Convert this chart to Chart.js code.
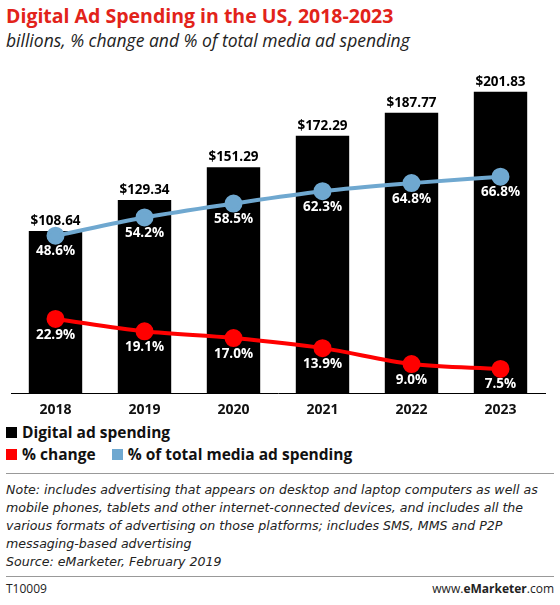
<!DOCTYPE html>
<html><head><meta charset="utf-8">
<script src="https://cdn.jsdelivr.net/npm/chart.js@4"></script>
<style>
body{margin:0;background:#fff;font-family:"Open Sans",Lato,sans-serif;width:560px;height:605px;position:relative;overflow:hidden}
.t{position:absolute;left:6px;top:2px;color:#e2231a;font-weight:bold;font-size:19.5px}
.s{position:absolute;left:6px;top:28px;font-style:italic;font-size:17.5px;color:#222}
#wrap{position:absolute;left:0;top:58px;width:556px;height:360px}
.lg{position:absolute;left:6px;font-weight:bold;font-size:15.5px;color:#111}
.lg span.b{display:inline-block;width:11px;height:11px;margin-right:5px}
.hr{position:absolute;left:6px;right:6px;border-top:1px solid #999}
.n{position:absolute;left:6px;top:481px;font-family:"DejaVu Sans",sans-serif;font-style:italic;font-size:12.6px;line-height:18px;color:#222;width:552px}
.f{position:absolute;top:580px;font-size:12px;color:#222}
</style></head><body>
<div class="t">Digital Ad Spending in the US, 2018-2023</div>
<div class="s">billions, % change and % of total media ad spending</div>
<div id="wrap"><canvas id="c"></canvas></div>
<div class="lg" style="top:421px"><span class="b" style="background:#000"></span>Digital ad spending</div>
<div class="lg" style="top:443px"><span class="b" style="background:#f00"></span>% change <span class="b" style="background:#6fa8d0;margin-left:12px"></span>% of total media ad spending</div>
<div class="hr" style="top:473px"></div>
<div class="n">Note: includes advertising that appears on desktop and laptop computers as well as mobile phones, tablets and other internet-connected devices, and includes all the various formats of advertising on those platforms; includes SMS, MMS and P2P messaging-based advertising<br>Source: eMarketer, February 2019</div>
<div class="hr" style="top:576px"></div>
<div class="f" style="left:6px">T10009</div>
<div class="f" style="right:6px">www.<b>eMarketer</b>.com</div>
<script>
const years = ["2018","2019","2020","2021","2022","2023"];
const spending = [108.64,129.34,151.29,172.29,187.77,201.83];
const pctChange = [22.9,19.1,17.0,13.9,9.0,7.5];
const pctTotal = [48.6,54.2,58.5,62.3,64.8,66.8];

const labelPlugin = {
  id: "labels",
  afterDatasetsDraw(chart) {
    const ctx = chart.ctx;
    ctx.save();
    ctx.textAlign = "center";
    ctx.font = "bold 13.5px 'Open Sans', sans-serif";
    chart.getDatasetMeta(0).data.forEach((b, i) => {
      ctx.fillStyle = "#000";
      ctx.textBaseline = "bottom";
      ctx.fillText("$" + spending[i].toFixed(2), b.x, b.y - 3);
    });
    [1, 2].forEach(d => {
      const vals = d === 1 ? pctChange : pctTotal;
      chart.getDatasetMeta(d).data.forEach((p, i) => {
        ctx.fillStyle = "#fff";
        ctx.textBaseline = "top";
        ctx.fillText(vals[i].toFixed(1) + "%", p.x, p.y + 9);
      });
    });
    ctx.restore();
  }
};

new Chart(document.getElementById("c"), {
  data: {
    labels: years,
    datasets: [
      { type: "bar", data: spending, backgroundColor: "#000", yAxisID: "y", order: 3,
        barPercentage: 0.6, categoryPercentage: 1 },
      { type: "line", data: pctChange, borderColor: "#f00", backgroundColor: "#f00", borderWidth: 4,
        pointRadius: 7, cubicInterpolationMode: "monotone", yAxisID: "y2", order: 1 },
      { type: "line", data: pctTotal, borderColor: "#6fa8d0", backgroundColor: "#6fa8d0", borderWidth: 4,
        pointRadius: 7, cubicInterpolationMode: "monotone", yAxisID: "y2", order: 2 }
    ]
  },
  options: {
    responsive: true, maintainAspectRatio: false, animation: false,
    layout: { padding: { left: 2, right: 0, top: 0 } },
    plugins: { legend: { display: false }, tooltip: { enabled: false } },
    scales: {
      x: { grid: { display: false }, border: { color: "#000", width: 1 },
           ticks: { color: "#111", font: { size: 14, weight: "bold", family: "Open Sans" }, padding: 0 } },
      y: { display: false, min: 0, max: 217 },
      y2: { display: false, min: 0, max: 100 }
    }
  },
  plugins: [labelPlugin]
});
</script>
</body></html>
